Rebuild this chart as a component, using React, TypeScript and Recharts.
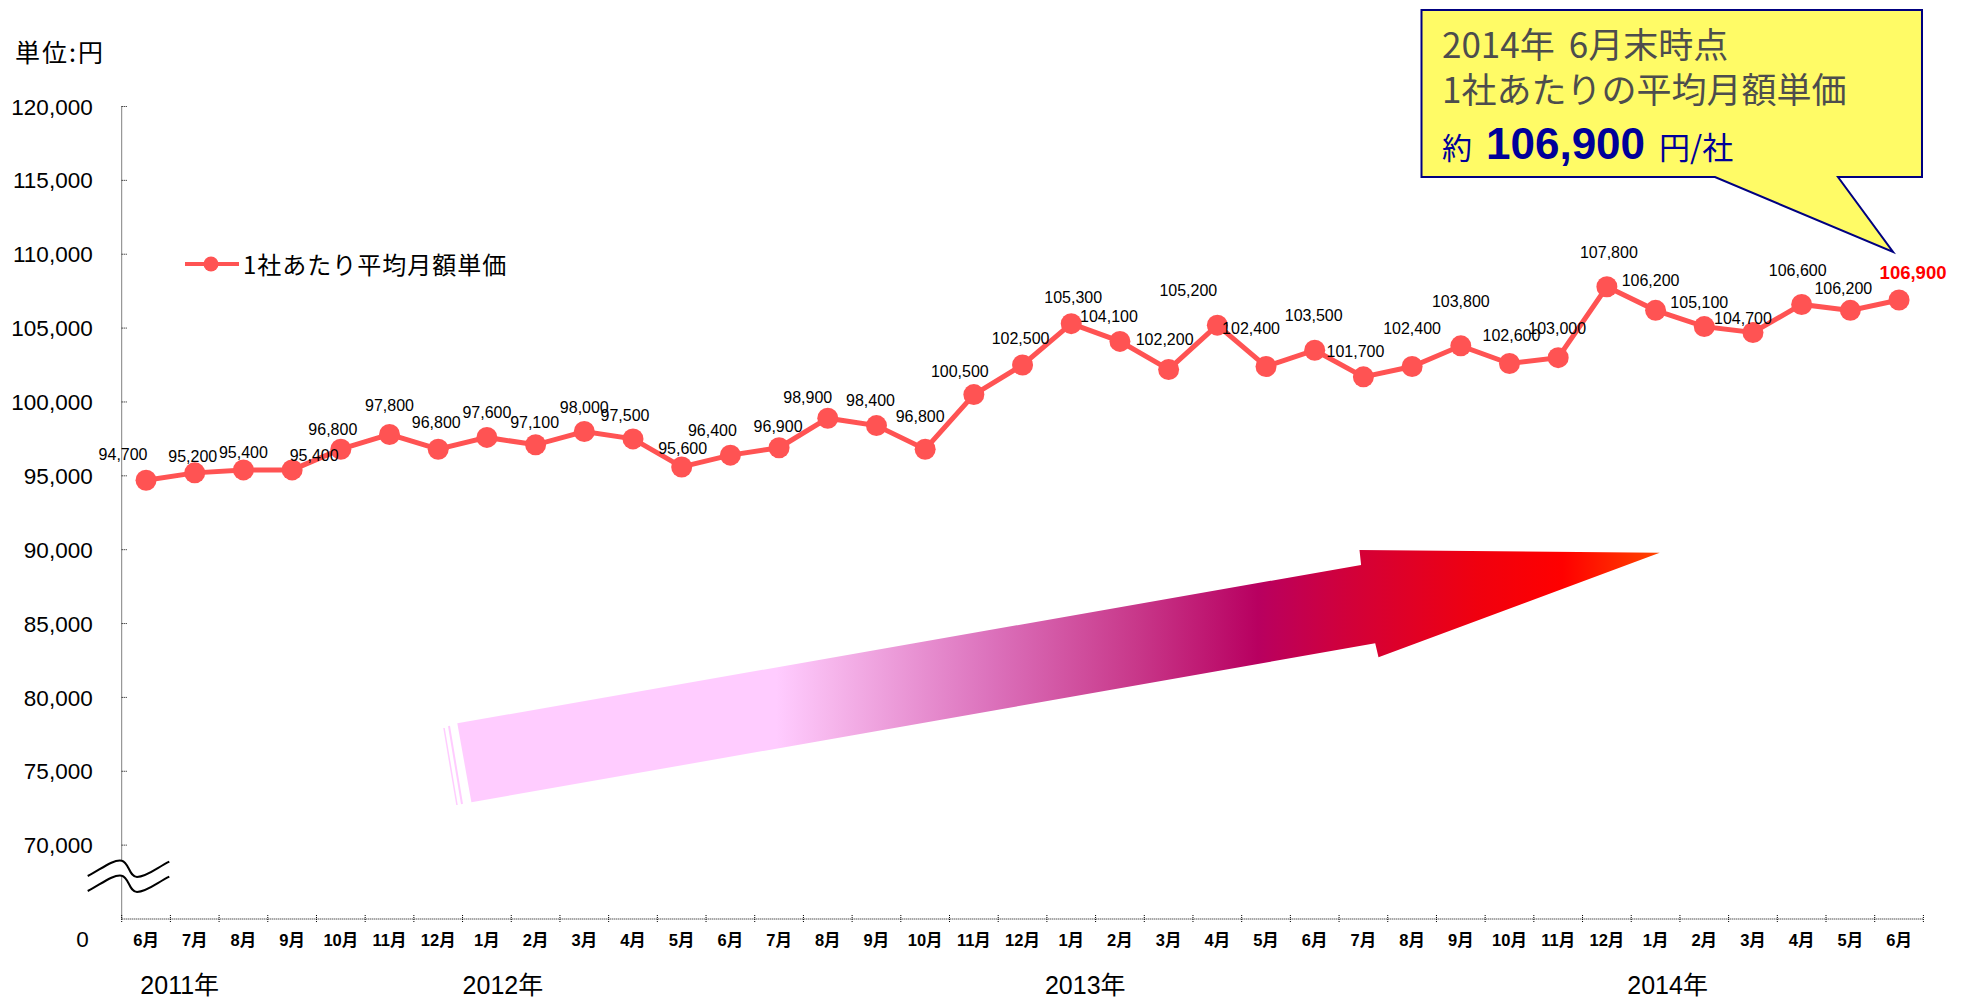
import React from 'react';
import { LineChart, Line, XAxis, YAxis, LabelList, Legend } from 'recharts';

// 月別の平均月額単価（2011年6月〜2014年6月）
const periods = [
  '2011/6', '2011/7', '2011/8', '2011/9', '2011/10', '2011/11', '2011/12',
  '2012/1', '2012/2', '2012/3', '2012/4', '2012/5', '2012/6',
  '2012/7', '2012/8', '2012/9', '2012/10', '2012/11', '2012/12',
  '2013/1', '2013/2', '2013/3', '2013/4', '2013/5', '2013/6',
  '2013/7', '2013/8', '2013/9', '2013/10', '2013/11', '2013/12',
  '2014/1', '2014/2', '2014/3', '2014/4', '2014/5', '2014/6',
];

const unitPrice = [
  94700, 95200, 95400, 95400, 96800, 97800, 96800,
  97600, 97100, 98000, 97500, 95600, 96400,
  96900, 98900, 98400, 96800, 100500, 102500,
  105300, 104100, 102200, 105200, 102400, 103500,
  101700, 102400, 103800, 102600, 103000, 107800,
  106200, 105100, 104700, 106600, 106200, 106900,
];

const yTicks = [65000, 70000, 75000, 80000, 85000, 90000, 95000, 100000, 105000, 110000, 115000, 120000];
const yearLabels = ['2011年', '2012年', '2013年', '2014年'];
const yearAnchors = ['2011/7', '2012/1', '2013/1', '2014/1'];
const seriesName = '1社あたり平均月額単価';
const calloutLines = ['2014年', '6月末時点', '1社あたりの平均月額単価'];

const data = periods.map((p, i) => ({ period: p, price: unitPrice[i] }));

// layout
const W = 1964;
const H = 1001;
const PLOT = { left: 121.7, right: 1923.4, top: 106.5, bottom: 919 };
const BAND = (PLOT.right - PLOT.left) / periods.length;
const Y_MIN = yTicks[0];
const Y_MAX = yTicks[yTicks.length - 1];
const xOf = (i: number) => PLOT.left + BAND * (i + 0.5);
const yOf = (v: number) => PLOT.bottom - ((v - Y_MIN) / (Y_MAX - Y_MIN)) * (PLOT.bottom - PLOT.top);

const LINE = '#FF5353';
const SANS = "'Liberation Sans', Arial, 'Noto Sans CJK JP', sans-serif";
const JP = "'Noto Sans CJK JP', sans-serif";
const YEAR_DX = [-15, 16, 14, 12];

// label centre offsets from each point (hand placed, like the original)
const LABEL_OFFSETS: [number, number][] = [
  [-23, -26], [-2, -17], [0, -18], [22, -15], [-8, -20], [0, -29], [-2, -27],
  [0, -25], [-1, -23], [0, -24], [-8, -24], [1, -19], [-18, -25],
  [-1, -22], [-20, -21], [-6, -25], [-5, -33], [-14, -23], [-2, -27],
  [2, -26], [-11, -25], [-4, -30], [-29, -35], [-15, -38], [-1, -35],
  [-8, -26], [0, -38], [0, -45], [2, -28], [-1, -29], [2, -34],
  [-5, -30], [-5, -24], [-10, -14], [-4, -34], [-7, -22], [14, -28],
];

const fmt = (v: number) => v.toLocaleString('en-US');

function YTick({ x, y, payload }: any) {
  const v = payload.value;
  const base = v === Y_MIN;
  return (
    <g>
      {!base && <line x1={x} x2={x + 5} y1={y} y2={y} stroke="#000" strokeDasharray="1 1" />}
      <text x={base ? x - 33 : x - 29} y={base ? y + 20 : y} dy="0.36em" textAnchor="end"
        fontSize={22.5} fontFamily={SANS} fill="#000">
        {base ? '0' : fmt(v)}
      </text>
    </g>
  );
}

function XTick({ x, y, payload }: any) {
  const period: string = payload.value;
  const idx = periods.indexOf(period);
  const month = period.split('/')[1] + '月';
  const yi = yearAnchors.indexOf(period);
  const half = BAND / 2;
  return (
    <g>
      <line x1={x - half} x2={x - half} y1={y - 4} y2={y + 4} stroke="#000" strokeDasharray="1 1" />
      {idx === periods.length - 1 && (
        <line x1={x + half} x2={x + half} y1={y - 4} y2={y + 4} stroke="#000" strokeDasharray="1 1" />
      )}
      <text x={x} y={y + 27} textAnchor="middle" fontSize={16.5} fontWeight="bold" fontFamily={SANS} fill="#000">
        {month}
      </text>
      {yi >= 0 && (
        <text x={x + YEAR_DX[yi]} y={y + 75} textAnchor="middle" fontSize={25} fontFamily={SANS} fill="#000">
          {yearLabels[yi]}
        </text>
      )}
    </g>
  );
}

function PointLabel({ x, y, value, index }: any) {
  const [dx, dy] = LABEL_OFFSETS[index] || [0, -24];
  const last = index === unitPrice.length - 1;
  return (
    <text x={x + dx} y={y + dy} dy="0.36em" textAnchor="middle"
      fontSize={last ? 18.5 : 16} fontWeight={last ? 'bold' : 'normal'}
      fontFamily={SANS} fill={last ? '#FF0000' : '#000'}>
      {fmt(value)}
    </text>
  );
}

function LegendContent({ payload }: any) {
  return (
    <div style={{ display: 'flex', alignItems: 'center' }}>
      {(payload || []).map((p: any) => (
        <div key={p.value} style={{ display: 'flex', alignItems: 'center' }}>
          <svg width={58} height={28}>
            <line x1={0} x2={54} y1={14} y2={14} stroke={p.color} strokeWidth={4} />
            <circle cx={26} cy={14} r={7.5} fill={p.color} />
          </svg>
          <span style={{ fontSize: 24, lineHeight: '28px', fontFamily: JP, color: '#000', letterSpacing: 1 }}>
            {p.value}
          </span>
        </div>
      ))}
    </div>
  );
}

function Overlay() {
  const lastI = unitPrice.length - 1;
  const tipX = xOf(lastI) - 6;
  const tipY = yOf(unitPrice[lastI]) - 48;
  const box = { l: 1421.5, r: 1922, t: 10, b: 177 };
  const callout = `M${box.l},${box.t} H${box.r} V${box.b} H1838 L${tipX},${tipY} L1715,${box.b} H${box.l} Z`;
  const arrow = 'M457.3,723.3 L1361.1,565 L1359.5,550 L1659.7,552.7 L1378.5,657.3 L1375.2,643.3 L471.4,802.3 Z';
  const wave = (o: number) =>
    `M87.7,${876 + o} C100,${870 + o} 113,${859 + o} 121.7,${860.7 + o} C129,${862 + o} 129,${877 + o} 137,${877 + o} C147,${877 + o} 158,${867 + o} 169.3,${861.7 + o}`;
  return (
    <svg width={W} height={H} style={{ position: 'absolute', left: 0, top: 0, pointerEvents: 'none' }}>
      <defs>
        <linearGradient id="trend" gradientUnits="userSpaceOnUse" x1={441} y1={0} x2={1660} y2={0}>
          <stop offset="0" stopColor="#FFCCFF" />
          <stop offset="0.275" stopColor="#FFCCFF" />
          <stop offset="0.32" stopColor="#F6B6EC" />
          <stop offset="0.45" stopColor="#DC72BC" />
          <stop offset="0.57" stopColor="#C8388A" />
          <stop offset="0.67" stopColor="#B80060" />
          <stop offset="0.74" stopColor="#D0003C" />
          <stop offset="0.85" stopColor="#F0000F" />
          <stop offset="0.92" stopColor="#FF0000" />
          <stop offset="1" stopColor="#FF4500" />
        </linearGradient>
      </defs>
      <path d={arrow} fill="url(#trend)" />
      <line x1={449} y1={726} x2={462} y2={804} stroke="#FFCCFF" strokeWidth={2} />
      <line x1={444} y1={728} x2={457} y2={805} stroke="#FFCCFF" strokeWidth={1.5} />

      <path d={`M87.7,876 C100,870 113,859 121.7,860.7 C129,862 129,877 137,877 C147,877 158,867 169.3,861.7 L169.3,876.7 C158,882 147,892 137,892 C129,892 129,877 121.7,875.7 C113,874 100,885 87.7,891 Z`} fill="#fff" />
      <path d={wave(0)} fill="none" stroke="#000" strokeWidth={2} />
      <path d={wave(15)} fill="none" stroke="#000" strokeWidth={2} />

      <text x={15} y={62} fontSize={25} letterSpacing={2} fontFamily={JP} fill="#000">単位:円</text>

      <path d={callout} fill="#FFFB66" stroke="#000080" strokeWidth={2} />
      <text x={1442} y={58} fontSize={35} fontFamily={JP} fill="#4D4D4D">
        <tspan>{calloutLines[0]}</tspan>
        <tspan dx={14}>{calloutLines[1]}</tspan>
      </text>
      <text x={1442} y={103} fontSize={35} fontFamily={JP} fill="#4D4D4D">{calloutLines[2]}</text>
      <text x={1442} y={159} fill="#000099" fontFamily={JP}>
        <tspan fontSize={30}>約</tspan>
        <tspan dx={14} fontSize={44} fontWeight="bold" fontFamily={SANS}>{fmt(unitPrice[lastI])}</tspan>
        <tspan dx={14} fontSize={31}>円/社</tspan>
      </text>
    </svg>
  );
}

export default function App() {
  return (
    <div style={{ position: 'absolute', left: 0, top: 0, width: W, height: H, background: '#fff' }}>
      <LineChart
        width={W}
        height={H}
        data={data}
        margin={{ top: PLOT.top, right: W - PLOT.right, bottom: 0, left: PLOT.left - 100 }}
      >
        <XAxis
          dataKey="period"
          scale="band"
          interval={0}
          height={H - PLOT.bottom}
          tickSize={0}
          tickMargin={0}
          tickLine={false}
          axisLine={{ stroke: '#000', strokeDasharray: '1 1' }}
          tick={<XTick />}
        />
        <YAxis
          type="number"
          domain={[Y_MIN, Y_MAX]}
          ticks={yTicks}
          width={100}
          tickSize={0}
          tickMargin={0}
          tickLine={false}
          axisLine={{ stroke: '#000', strokeDasharray: '1 1' }}
          tick={<YTick />}
        />
        <Legend
          layout="horizontal"
          verticalAlign="middle"
          align="center"
          wrapperStyle={{ left: 185, top: 250, width: 'auto' }}
          content={<LegendContent />}
        />
        <Line
          name={seriesName}
          dataKey="price"
          stroke={LINE}
          strokeWidth={5}
          dot={{ r: 10.5, fill: LINE, stroke: 'none' }}
          activeDot={false}
          isAnimationActive={false}
        >
          <LabelList dataKey="price" content={<PointLabel />} />
        </Line>
      </LineChart>
      <Overlay />
    </div>
  );
}
